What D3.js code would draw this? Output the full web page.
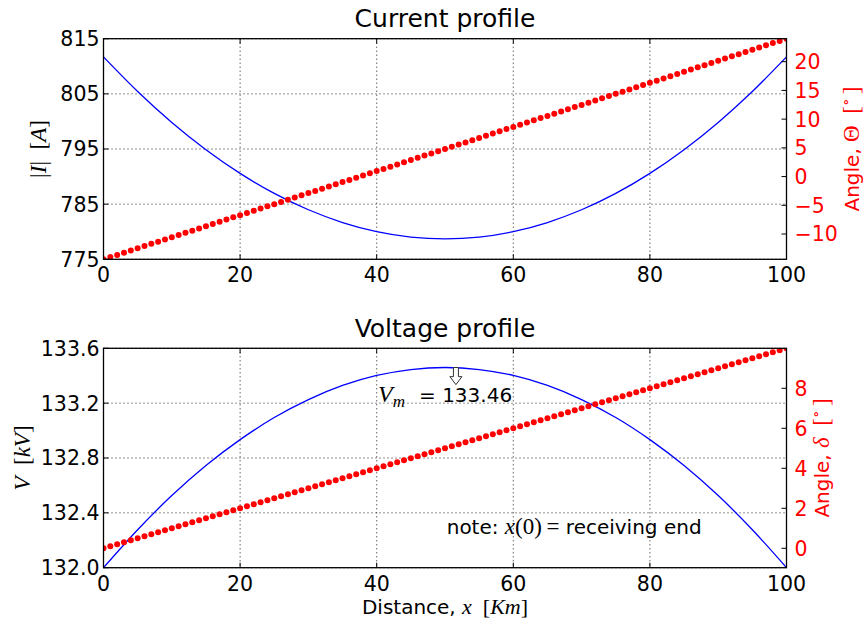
<!DOCTYPE html>
<html>
<head>
<meta charset="utf-8">
<script src="https://cdn.jsdelivr.net/npm/d3@7"></script>
<style>
  body { margin: 0; background: #fff; }
  svg { display: block; }
  text { font-family: "DejaVu Sans", sans-serif; }
</style>
</head>
<body>
<svg id="chart" width="866" height="625"></svg>
<script>
// ---- line profile samples (every 5 km) ----
const sampleKm = [0, 5, 10, 15, 20, 25, 30, 35, 40, 45, 50, 55, 60, 65, 70, 75, 80, 85, 90, 95, 100];
const currentAmps = [811.70, 805.43, 799.82, 794.87, 790.58, 786.95, 783.98, 781.67, 780.02, 779.03, 778.70,
                     779.03, 780.02, 781.67, 783.98, 786.95, 790.58, 794.87, 799.82, 805.43, 811.70];
const voltageKV = [132.000, 132.277, 132.526, 132.745, 132.934, 133.095, 133.226, 133.329, 133.402, 133.445, 133.460,
                   133.445, 133.402, 133.329, 133.226, 133.095, 132.934, 132.745, 132.526, 132.277, 132.000];

// ---- phase angles (every 1 km) ----
const angleKm = [0, 1, 2, 3, 4, 5, 6, 7, 8, 9, 10, 11, 12, 13, 14, 15, 16, 17, 18, 19, 20,
  21, 22, 23, 24, 25, 26, 27, 28, 29, 30, 31, 32, 33, 34, 35, 36, 37, 38, 39, 40,
  41, 42, 43, 44, 45, 46, 47, 48, 49, 50, 51, 52, 53, 54, 55, 56, 57, 58, 59, 60,
  61, 62, 63, 64, 65, 66, 67, 68, 69, 70, 71, 72, 73, 74, 75, 76, 77, 78, 79, 80,
  81, 82, 83, 84, 85, 86, 87, 88, 89, 90, 91, 92, 93, 94, 95, 96, 97, 98, 99, 100];
const currentAngleDeg = [-14.40, -14.02, -13.63, -13.25, -12.86, -12.48, -12.10, -11.71, -11.33, -10.94, -10.56,
  -10.18, -9.79, -9.41, -9.02, -8.64, -8.26, -7.87, -7.49, -7.10, -6.72,
  -6.34, -5.95, -5.57, -5.18, -4.80, -4.42, -4.03, -3.65, -3.26, -2.88,
  -2.50, -2.11, -1.73, -1.34, -0.96, -0.58, -0.19, 0.19, 0.58, 0.96,
  1.34, 1.73, 2.11, 2.50, 2.88, 3.26, 3.65, 4.03, 4.42, 4.80,
  5.18, 5.57, 5.95, 6.34, 6.72, 7.10, 7.49, 7.87, 8.26, 8.64,
  9.02, 9.41, 9.79, 10.18, 10.56, 10.94, 11.33, 11.71, 12.10, 12.48,
  12.86, 13.25, 13.63, 14.02, 14.40, 14.78, 15.17, 15.55, 15.94, 16.32,
  16.70, 17.09, 17.47, 17.86, 18.24, 18.62, 19.01, 19.39, 19.78, 20.16,
  20.54, 20.93, 21.31, 21.70, 22.08, 22.46, 22.85, 23.23, 23.62, 24.00];
const voltageAngleDeg = [0.0, 0.1, 0.2, 0.3, 0.4, 0.5, 0.6, 0.7, 0.8, 0.9, 1.0,
  1.1, 1.2, 1.3, 1.4, 1.5, 1.6, 1.7, 1.8, 1.9, 2.0,
  2.1, 2.2, 2.3, 2.4, 2.5, 2.6, 2.7, 2.8, 2.9, 3.0,
  3.1, 3.2, 3.3, 3.4, 3.5, 3.6, 3.7, 3.8, 3.9, 4.0,
  4.1, 4.2, 4.3, 4.4, 4.5, 4.6, 4.7, 4.8, 4.9, 5.0,
  5.1, 5.2, 5.3, 5.4, 5.5, 5.6, 5.7, 5.8, 5.9, 6.0,
  6.1, 6.2, 6.3, 6.4, 6.5, 6.6, 6.7, 6.8, 6.9, 7.0,
  7.1, 7.2, 7.3, 7.4, 7.5, 7.6, 7.7, 7.8, 7.9, 8.0,
  8.1, 8.2, 8.3, 8.4, 8.5, 8.6, 8.7, 8.8, 8.9, 9.0,
  9.1, 9.2, 9.3, 9.4, 9.5, 9.6, 9.7, 9.8, 9.9, 10.0];

// ---- tick labels ----
const distanceTicks = [0, 20, 40, 60, 80, 100];
const currentTicks = [775, 785, 795, 805, 815];
const currentAngleTicks = [-10, -5, 0, 5, 10, 15, 20];
const voltageTicks = [132.0, 132.4, 132.8, 133.2, 133.6];
const voltageAngleTicks = [0, 2, 4, 6, 8];

// ---- annotations ----
const peakKm = 50;
const peakVoltage = 133.46;

const svg = d3.select("#chart");
const plotLeft = 103.5, plotRight = 786.5;
const TICK_FS = 20.5, LABEL_FS = 20, TITLE_FS = 25, MATH_FS = 23;
const SERIF = "'Liberation Serif', 'DejaVu Serif', serif";

const x = d3.scaleLinear().domain([0, 100]).range([plotLeft, plotRight]);

// Append a run of text pieces (sans / math) to a <text> element
function addRuns(textSel, runs) {
  runs.forEach(r => {
    const t = textSel.append("tspan").text(r.t);
    if (r.math) t.attr("font-family", SERIF).attr("font-size", r.fs || MATH_FS);
    if (r.it) t.attr("font-style", "italic");
    if (r.dy) t.attr("dy", r.dy);
    if (r.fs && !r.math) t.attr("font-size", r.fs);
  });
  return textSel;
}

function drawPanel(cfg) {
  const { top, bottom, yDomain, yTicks, yFmt, rDomain, rTicks, lineY, dotY, id } = cfg;
  const y = d3.scaleLinear().domain(yDomain).range([bottom, top]);
  const yr = d3.scaleLinear().domain(rDomain).range([bottom, top]);
  const g = svg.append("g");

  g.append("clipPath").attr("id", id)
    .append("rect").attr("x", plotLeft).attr("y", top)
    .attr("width", plotRight - plotLeft).attr("height", bottom - top);

  // dotted grid
  const grid = g.append("g").attr("stroke", "#222").attr("stroke-width", 1)
    .attr("stroke-dasharray", "1,3");
  distanceTicks.forEach(v => grid.append("line")
    .attr("x1", x(v)).attr("x2", x(v)).attr("y1", top).attr("y2", bottom));
  yTicks.forEach(v => grid.append("line")
    .attr("x1", plotLeft).attr("x2", plotRight).attr("y1", y(v)).attr("y2", y(v)));

  const plot = g.append("g").attr("clip-path", `url(#${id})`);
  plot.append("path")
    .datum(sampleKm.map((k, i) => [k, lineY[i]]))
    .attr("fill", "none").attr("stroke", "#0000ff").attr("stroke-width", 1.3)
    .attr("d", d3.line().x(d => x(d[0])).y(d => y(d[1])).curve(d3.curveCatmullRom.alpha(0.5)));
  plot.selectAll("circle.ang")
    .data(angleKm.map((k, i) => [k, dotY[i]]))
    .join("circle").attr("class", "ang")
    .attr("cx", d => x(d[0])).attr("cy", d => yr(d[1])).attr("r", 3)
    .attr("fill", "#ff0000");

  // frame
  g.append("rect").attr("x", plotLeft).attr("y", top)
    .attr("width", plotRight - plotLeft).attr("height", bottom - top)
    .attr("fill", "none").attr("stroke", "#000").attr("stroke-width", 1.3);

  const TL = 5;
  const ticks = g.append("g").attr("stroke", "#000").attr("stroke-width", 1);
  distanceTicks.forEach(v => {
    ticks.append("line").attr("x1", x(v)).attr("x2", x(v)).attr("y1", bottom).attr("y2", bottom - TL);
    ticks.append("line").attr("x1", x(v)).attr("x2", x(v)).attr("y1", top).attr("y2", top + TL);
  });
  yTicks.forEach(v => ticks.append("line")
    .attr("x1", plotLeft).attr("x2", plotLeft + TL).attr("y1", y(v)).attr("y2", y(v)));
  rTicks.forEach(v => ticks.append("line")
    .attr("x1", plotRight).attr("x2", plotRight - TL).attr("y1", yr(v)).attr("y2", yr(v)));

  // tick labels
  g.append("g").selectAll("text").data(distanceTicks).join("text")
    .attr("x", d => x(d)).attr("y", bottom + 23).attr("text-anchor", "middle")
    .attr("font-size", TICK_FS).text(d => d);
  g.append("g").selectAll("text").data(yTicks).join("text")
    .attr("x", plotLeft - 4).attr("y", d => y(d) + 7.4).attr("text-anchor", "end")
    .attr("font-size", TICK_FS).text(yFmt);
  g.append("g").selectAll("text").data(rTicks).join("text")
    .attr("x", plotRight + 8).attr("y", d => yr(d) + 7.4).attr("text-anchor", "start")
    .attr("font-size", TICK_FS).attr("fill", "#ff0000").text(d3.format("d"));

  return { y, yr, g };
}

// ---------- Current profile ----------
const p1 = drawPanel({
  id: "clipTop", top: 38.7, bottom: 259.3,
  yDomain: [775, 815], yTicks: currentTicks, yFmt: d3.format("d"),
  rDomain: [-14.4, 24.0], rTicks: currentAngleTicks,
  lineY: currentAmps, dotY: currentAngleDeg
});
svg.append("text").attr("x", (plotLeft + plotRight) / 2).attr("y", 27)
  .attr("text-anchor", "middle").attr("font-size", TITLE_FS).text("Current profile");
addRuns(svg.append("text").attr("transform", "translate(46,149) rotate(-90)")
  .attr("text-anchor", "middle"), [
  { t: "|", math: true }, { t: "I", math: true, it: true }, { t: "|", math: true },
  { t: "\u2002[", math: true }, { t: "A", math: true, it: true }, { t: "]", math: true }
]);
addRuns(svg.append("text").attr("transform", "translate(859,149) rotate(-90)")
  .attr("text-anchor", "middle").attr("font-size", LABEL_FS).attr("fill", "#ff0000"), [
  { t: "Angle, " }, { t: "\u0398", math: true }, { t: "\u2002[", math: true },
  { t: "\u2218", math: true, fs: 15, dy: -8 }, { t: "\u2009]", math: true, dy: 8 }
]);

// ---------- Voltage profile ----------
const p2 = drawPanel({
  id: "clipBottom", top: 348.3, bottom: 567.7,
  yDomain: [132.0, 133.6], yTicks: voltageTicks, yFmt: d3.format(".1f"),
  rDomain: [-0.97, 10.0], rTicks: voltageAngleTicks,
  lineY: voltageKV, dotY: voltageAngleDeg
});
svg.append("text").attr("x", (plotLeft + plotRight) / 2).attr("y", 336.5)
  .attr("text-anchor", "middle").attr("font-size", TITLE_FS).text("Voltage profile");
addRuns(svg.append("text").attr("transform", "translate(30,458) rotate(-90)")
  .attr("text-anchor", "middle"), [
  { t: "V", math: true, it: true }, { t: "\u2002[", math: true },
  { t: "kV", math: true, it: true }, { t: "]", math: true }
]);
addRuns(svg.append("text").attr("transform", "translate(829,458) rotate(-90)")
  .attr("text-anchor", "middle").attr("font-size", LABEL_FS).attr("fill", "#ff0000"), [
  { t: "Angle, " }, { t: "\u03b4", math: true, it: true }, { t: "\u2002[", math: true },
  { t: "\u2218", math: true, fs: 15, dy: -8 }, { t: "\u2009]", math: true, dy: 8 }
]);

// peak voltage annotation with hollow arrow
const arrowKm = 51.6, arrowTipV = 133.335;
const ax = x(arrowKm), ay0 = p2.y(peakVoltage), ay1 = p2.y(arrowTipV);
const sw = 2.5, hw = 6, hl = 8;
svg.append("path")
  .attr("d", `M${ax - sw},${ay0} L${ax - sw},${ay1 - hl} L${ax - hw},${ay1 - hl} L${ax},${ay1}
              L${ax + hw},${ay1 - hl} L${ax + sw},${ay1 - hl} L${ax + sw},${ay0} Z`)
  .attr("fill", "#fff").attr("stroke", "#333").attr("stroke-width", 1);
addRuns(svg.append("text").attr("x", x(40.2)).attr("y", p2.y(133.21)).attr("font-size", LABEL_FS), [
  { t: "V", math: true, it: true, fs: 24 }, { t: "m", math: true, it: true, fs: 17, dy: 5 },
  { t: "\u2002\u2009= " + peakVoltage.toFixed(2), dy: -5 }
]);
addRuns(svg.append("text").attr("x", x(50.25)).attr("y", p2.y(132.245)).attr("font-size", LABEL_FS), [
  { t: "note: " }, { t: "x", math: true, it: true }, { t: "(0)\u2009=", math: true }, { t: " receiving end" }
]);

// shared x label
addRuns(svg.append("text").attr("x", (plotLeft + plotRight) / 2).attr("y", 613.5)
  .attr("text-anchor", "middle").attr("font-size", LABEL_FS), [
  { t: "Distance, " }, { t: "x", math: true, it: true, fs: 22 }, { t: "\u2002[", math: true, fs: 22 },
  { t: "Km", math: true, it: true, fs: 22 }, { t: "]", math: true, fs: 22 }
]);
</script>
</body>
</html>
